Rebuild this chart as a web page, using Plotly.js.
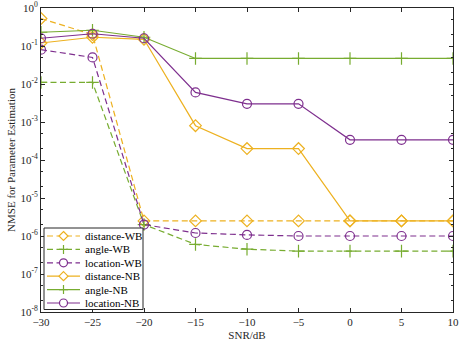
<!DOCTYPE html>
<html>
<head>
<script src="https://cdn.plot.ly/plotly-3.0.1.min.js"></script>
<style>body{margin:0;padding:0;background:#fff}</style>
</head>
<body>
<div id="plotDiv" style="width:459px;height:344px"></div>
<script>
var snr = [-30, -25, -20, -15, -10, -5, 0, 5, 10];

var distWB = [0.53, 0.2, 2.5e-6, 2.5e-6, 2.5e-6, 2.5e-6, 2.5e-6, 2.5e-6, 2.5e-6];
var angleWB = [0.011, 0.011, 2e-6, 6e-7, 4.5e-7, 4e-7, 4e-7, 4e-7, 4e-7];
var locWB = [0.08, 0.05, 2e-6, 1.2e-6, 1.07e-6, 1e-6, 1e-6, 1e-6, 1e-6];
var distNB = [0.12, 0.17, 0.15, 8e-4, 2e-4, 2e-4, 2.5e-6, 2.5e-6, 2.5e-6];
var angleNB = [0.23, 0.26, 0.17, 0.047, 0.047, 0.047, 0.047, 0.047, 0.047];
var locNB = [0.16, 0.21, 0.16, 6e-3, 3e-3, 3e-3, 3.4e-4, 3.4e-4, 3.4e-4];

var names = ['distance-WB', 'angle-WB', 'location-WB', 'distance-NB', 'angle-NB', 'location-NB'];

var xTicks = [-30, -25, -20, -15, -10, -5, 0, 5, 10];
var yTicks = [1e-8, 1e-7, 1e-6, 1e-5, 1e-4, 1e-3, 1e-2, 1e-1, 1];
var yLabels = ['10<sup>-8</sup>', '10<sup>-7</sup>', '10<sup>-6</sup>', '10<sup>-5</sup>',
  '10<sup>-4</sup>', '10<sup>-3</sup>', '10<sup>-2</sup>', '10<sup>-1</sup>', '10<sup>0</sup>'];

var yellow = '#EDB120', green = '#77AC30', purple = '#7E2F8E';
var colors = [yellow, green, purple, yellow, green, purple];
var symbols = ['diamond-open', 'cross-thin-open', 'circle-open', 'diamond-open', 'cross-thin-open', 'circle-open'];
var dashes = ['6px,3.5px', '6px,3.5px', '6px,3.5px', 'solid', 'solid', 'solid'];
var series = [distWB, angleWB, locWB, distNB, angleNB, locNB];

var serif = 'Times New Roman, Liberation Serif, serif';

var data = series.map(function (y, i) {
  return {
    x: snr, y: y, name: names[i], type: 'scatter', mode: 'lines+markers',
    showlegend: false,
    line: {color: colors[i], width: 1.2, dash: dashes[i]},
    marker: {symbol: symbols[i], size: 9, color: colors[i], line: {color: colors[i], width: 1.2}}
  };
});

// hand-made legend (plotly's own legend rows are too tall for this one)
var W = 412, H = 304, L = 41, T = 8;
function px(x) { return (x - L) / W; }
function py(y) { return (T + H - y) / H; }

var shapes = [{
  type: 'rect', xref: 'paper', yref: 'paper', layer: 'above',
  x0: px(44), x1: px(143), y0: py(228), y1: py(309.5),
  fillcolor: '#fff', line: {color: '#262626', width: 1}
}];
var annotations = [];
names.forEach(function (n, i) {
  var yy = py(236 + i * 13.4);
  var cx = px(63.5);
  shapes.push({
    type: 'line', xref: 'paper', yref: 'paper', layer: 'above',
    x0: px(47), x1: px(80), y0: yy, y1: yy,
    line: {color: colors[i], width: 1.2, dash: dashes[i]}
  });
  var mk = {
    xref: 'paper', yref: 'paper', layer: 'above',
    xsizemode: 'pixel', ysizemode: 'pixel', xanchor: cx, yanchor: yy,
    fillcolor: '#fff', line: {color: colors[i], width: 1.2}
  };
  if (symbols[i] === 'circle-open') {
    mk.type = 'circle'; mk.x0 = -4; mk.x1 = 4; mk.y0 = -4; mk.y1 = 4;
  } else if (symbols[i] === 'diamond-open') {
    mk.type = 'path'; mk.path = 'M0,4.5 L4.5,0 L0,-4.5 L-4.5,0 Z';
  } else {
    mk.type = 'path'; mk.path = 'M-4.5,0 L4.5,0 M0,-4.5 L0,4.5';
    mk.fillcolor = 'rgba(0,0,0,0)';
  }
  shapes.push(mk);
  annotations.push({
    xref: 'paper', yref: 'paper', x: px(83), y: yy, xanchor: 'left', yanchor: 'middle',
    text: n, showarrow: false,
    font: {family: serif, size: 11, color: '#000'}
  });
});

var axisFont = {family: serif, size: 11, color: '#262626'};

var layout = {
  width: 459, height: 344,
  margin: {l: 41, r: 6, t: 8, b: 32, pad: 0},
  paper_bgcolor: '#fff', plot_bgcolor: '#fff',
  font: axisFont,
  showlegend: false,
  shapes: shapes,
  annotations: annotations,
  xaxis: {
    range: [-30, 10], tickvals: xTicks, ticks: 'inside', ticklen: 4,
    showgrid: false, zeroline: false, showline: true, mirror: 'ticks',
    linecolor: '#262626', linewidth: 1, tickcolor: '#262626',
    title: {text: 'SNR/dB', font: axisFont, standoff: 4},
    tickfont: axisFont
  },
  yaxis: {
    type: 'log', range: [-8, 0], tickvals: yTicks, ticktext: yLabels,
    ticks: 'inside', ticklen: 4, showgrid: false, zeroline: false,
    showline: true, mirror: 'ticks', linecolor: '#262626', linewidth: 1,
    tickcolor: '#262626',
    minor: {ticks: 'inside', ticklen: 2, tickcolor: '#262626', showgrid: false},
    title: {text: 'NMSE for Parameter Estimation', font: axisFont, standoff: 2},
    tickfont: axisFont
  }
};

Plotly.newPlot('plotDiv', data, layout, {staticPlot: true});
</script>
</body>
</html>
